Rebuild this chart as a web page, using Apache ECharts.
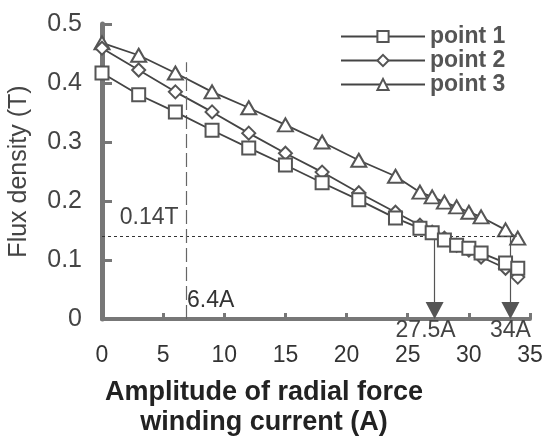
<!DOCTYPE html>
<html>
<head>
<meta charset="utf-8">
<script src="https://cdn.jsdelivr.net/npm/echarts@6/dist/echarts.min.js"></script>
<style>html,body{margin:0;padding:0;background:#fff;}#c{width:544px;height:440px;}</style>
</head>
<body>
<div id="c"></div>
<script>
// Data
const currents = [0, 3, 6, 9, 12, 15, 18, 21, 24, 26, 27, 28, 29, 30, 31, 33, 34];
const point1 = [0.417, 0.380, 0.351, 0.320, 0.290, 0.261, 0.231, 0.202, 0.171, 0.154, 0.146, 0.134, 0.125, 0.120, 0.112, 0.095, 0.086];
const point2 = [0.459, 0.422, 0.385, 0.351, 0.315, 0.281, 0.249, 0.214, 0.181, 0.159, 0.147, 0.137, 0.125, 0.117, 0.105, 0.086, 0.071];
const point3 = [0.468, 0.447, 0.417, 0.385, 0.358, 0.329, 0.300, 0.269, 0.242, 0.215, 0.207, 0.198, 0.190, 0.181, 0.173, 0.151, 0.137];
const seriesNames = ['point 1', 'point 2', 'point 3'];
const seriesSymbols = ['rect', 'diamond', 'triangle'];
const xTicks = [0, 5, 10, 15, 20, 25, 30, 35];
const yTicks = [0, 0.1, 0.2, 0.3, 0.4, 0.5];
// annotations
const thresholdFlux = 0.14;
const thresholdLabel = '0.14T';
const dashedX = 6.87, dashedTop = 0.435, dashedLabel = '6.4A';
const arrowXs = [27.2, 33.4];
const arrowLabels = ['27.5A', '34A'];

const chart = echarts.init(document.getElementById('c'), null, {renderer: 'canvas'});
const gray = '#555';
const font = 'Liberation Sans, Arial, sans-serif';

function pairs(ys) { return currents.map((x, i) => [x, ys[i]]); }

const allSeries = [point1, point2, point3].map((ys, i) => ({
  name: seriesNames[i],
  type: 'line',
  data: pairs(ys),
  symbol: seriesSymbols[i],
  symbolSize: i === 2 ? [15, 13] : 13,
  showAllSymbol: true,
  lineStyle: {color: '#444', width: 1.8},
  itemStyle: {color: '#fff', borderColor: gray, borderWidth: 2},
  z: 3 - i + 2
}));

allSeries.push({
  name: 'annot',
  type: 'line',
  data: [],
  silent: true,
  markLine: {
    silent: true,
    animation: false,
    symbol: ['none', 'none'],
    label: {show: false},
    data: [
      [{coord: [0, thresholdFlux], lineStyle: {type: [3, 3], color: '#333', width: 1}}, {coord: [33.9, thresholdFlux]}],
      [{coord: [dashedX, 0], lineStyle: {type: [14, 5], color: '#666', width: 1.2}}, {coord: [dashedX, dashedTop]}],
      [{coord: [arrowXs[0], thresholdFlux], symbol: 'none', lineStyle: {type: 'solid', color: '#555', width: 1.2}},
       {coord: [arrowXs[0], 0.0145], symbol: 'triangle', symbolSize: [18, 17], itemStyle: {color: '#666'}}],
      [{coord: [arrowXs[1], thresholdFlux], symbol: 'none', lineStyle: {type: 'solid', color: '#555', width: 1.2}},
       {coord: [arrowXs[1], 0.0145], symbol: 'triangle', symbolSize: [18, 17], itemStyle: {color: '#666'}}]
    ]
  },
  markPoint: {
    silent: true,
    animation: false,
    symbol: 'circle',
    symbolSize: 0,
    label: {show: true, color: '#444', fontFamily: font, fontSize: 23},
    data: [
      {coord: [1.45, 0.171], label: {formatter: thresholdLabel, position: 'right', distance: 0}},
      {coord: [dashedX + 0.08, 0.0305], label: {formatter: dashedLabel, position: 'right', distance: 0, color: '#333'}},
      {coord: [arrowXs[0], 0], label: {formatter: arrowLabels[0], position: 'bottom', distance: 0, offset: [-9, 0]}},
      {coord: [arrowXs[1], 0], label: {formatter: arrowLabels[1], position: 'bottom', distance: 0}}
    ]
  }
});

chart.setOption({
  backgroundColor: '#fff',
  animation: false,
  grid: {left: 102, right: 14, top: 24, bottom: 121, containLabel: false, outerBoundsMode: 'none'},
  legend: {
    data: seriesNames,
    orient: 'vertical',
    left: 340,
    top: 25,
    padding: 0,
    itemWidth: 84,
    itemHeight: 14,
    itemGap: 1,
    textStyle: {color: gray, fontFamily: font, fontSize: 23, fontWeight: 'bold', lineHeight: 22},
    inactiveColor: '#ccc'
  },
  xAxis: {
    type: 'value',
    min: 0, max: 35, interval: 5,
    name: 'Amplitude of radial force\nwinding current (A)',
    nameLocation: 'middle',
    nameGap: 59,
    nameTextStyle: {color: '#222', fontFamily: font, fontSize: 27, fontWeight: 'bold', lineHeight: 30, padding: [0, 104, 0, 0]},
    axisLine: {show: true, onZero: false, lineStyle: {color: '#777', width: 4}},
    axisTick: {show: true, inside: true, length: 6, lineStyle: {color: '#777', width: 3}},
    axisLabel: {color: '#333', fontFamily: font, fontSize: 23, margin: 25, formatter: v => xTicks.includes(v) ? String(v) : ''},
    splitLine: {show: false}
  },
  yAxis: {
    type: 'value',
    min: 0, max: 0.5, interval: 0.1,
    name: 'Flux density (T)',
    nameLocation: 'middle',
    nameGap: 70,
    nameRotate: 90,
    nameTextStyle: {color: '#444', fontFamily: font, fontSize: 25},
    axisLine: {show: true, onZero: false, lineStyle: {color: '#777', width: 5}},
    axisTick: {show: true, inside: true, length: 10, lineStyle: {color: '#777', width: 3}},
    axisLabel: {color: '#444', fontFamily: font, fontSize: 25, margin: 20,
      formatter: v => { const t = yTicks.find(k => Math.abs(k - v) < 1e-9); return t === undefined ? '' : (t === 0 ? '0' : t.toFixed(1)); }},
    splitLine: {show: false}
  },
  series: allSeries
});
</script>
</body>
</html>
